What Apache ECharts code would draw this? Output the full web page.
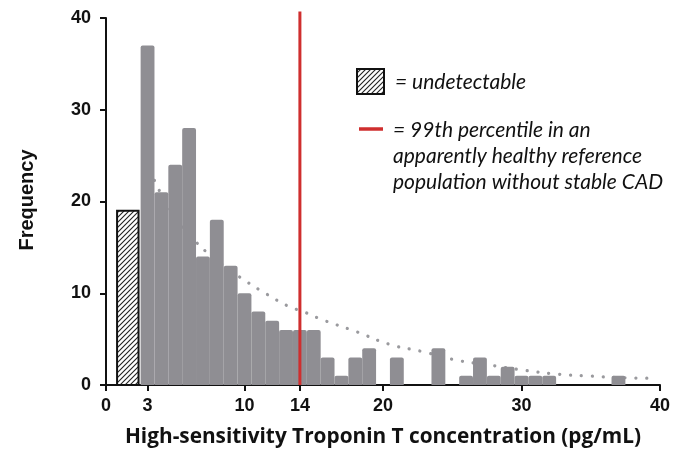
<!DOCTYPE html>
<html><head><meta charset="utf-8">
<script src="https://cdn.jsdelivr.net/npm/echarts@6/dist/echarts.min.js"></script>
<style>html,body{margin:0;padding:0;background:#fff}#c{width:686px;height:453px}</style>
</head><body><div id="c"></div>
<script>
// ---- data ----
const binCenters = [3,4,5,6,7,8,9,10,11,12,13,14,15,16,17,18,19,20,21,22,23,24,25,26,27,28,29,30,31,32,33,34,35,36,37];
const binCounts  = [37,21,24,28,14,18,13,10,8,7,6,6,6,3,1,3,4,0,3,0,0,4,0,1,3,1,2,1,1,1,0,0,0,0,1];
const binWidth = 1;
const undetectRange = [0.8, 2.35];
const undetectCount = 19;
const curveX = [3.5, 3.7, 5, 6.56, 7.33, 8.5, 9.92, 11.5, 13.28, 14.12, 15.68, 18.08, 20.48, 22.88, 25.28, 27.68, 30.08, 32.48, 34.88, 37.28, 39.68];
const curveY = [22.3, 21.6, 18.3, 15.5, 14.4, 13.0, 11.5, 10.0, 8.5, 8.07, 7.08, 5.81, 4.43, 3.63, 2.72, 2.18, 1.63, 1.2, 0.98, 0.8, 0.73];
const cutoff = 14;
const cutoffTop = 40.7;
const xTicks = [0, 3, 10, 14, 20, 30, 40];
const yTicks = [0, 10, 20, 30, 40];
const xTitle = 'High-sensitivity Troponin T concentration (pg/mL)';
const yTitle = 'Frequency';
const legendLabels = ['= undetectable', '= 99th percentile in an', 'apparently healthy reference', 'population without stable CAD'];

// ---- styles ----
const GRAY = '#8f8e93';
const RED = '#cf2e2e';
function hatchCanvas(){
  const c = document.createElement('canvas'); c.width = 5; c.height = 5;
  const g = c.getContext('2d');
  g.fillStyle = '#fff'; g.fillRect(0,0,5,5);
  g.strokeStyle = '#222'; g.lineWidth = 1.1; g.beginPath();
  g.moveTo(-1,6); g.lineTo(6,-1);
  g.moveTo(-1,1); g.lineTo(1,-1);
  g.moveTo(4,6); g.lineTo(6,4);
  g.stroke();
  return c;
}
const hatch = {image: hatchCanvas(), repeat: 'repeat'};

const histData = binCenters.map((c,i)=>[c - binWidth/2, c + binWidth/2, binCounts[i]]);
const curveData = curveX.map((x,i)=>[x, curveY[i]]);

const chart = echarts.init(document.getElementById('c'), null, {renderer:'canvas'});
const axisFont = {fontFamily:'Liberation Sans', fontWeight:'bold', fontSize:18, color:'#111'};
const legendFont = 'italic 21px Lato';
chart.setOption({
  animation:false,
  backgroundColor:'#fff',
  grid:{left:106, top:18, width:554, height:367, outerBoundsMode:'none', containLabel:false},
  xAxis:{
    type:'value', min:0, max:40,
    axisLine:{show:true, onZero:false, lineStyle:{color:'#111', width:2}},
    axisTick:{show:true, inside:false, length:6, lineStyle:{color:'#111', width:2}, customValues:xTicks},
    axisLabel:Object.assign({margin:12, customValues:xTicks}, axisFont),
    splitLine:{show:false},
    name:xTitle, nameLocation:'middle', nameGap:42,
    nameTextStyle:{fontFamily:'Open Sans', fontWeight:'bold', fontSize:20.8, color:'#111'}
  },
  yAxis:{
    type:'value', min:0, max:40, interval:10,
    axisLine:{show:true, lineStyle:{color:'#111', width:2}},
    axisTick:{show:true, length:6, lineStyle:{color:'#111', width:2}},
    axisLabel:Object.assign({margin:15}, axisFont),
    splitLine:{show:false}
  },
  graphic:[
    {type:'text', x:27, y:200, rotation:Math.PI/2,
      style:{text:yTitle, align:'center', verticalAlign:'middle', font:'bold 20px "Liberation Sans"', fill:'#111'}},
    {type:'rect', shape:{x:357, y:69, width:27, height:25},
      style:{fill:hatch, stroke:'#111', lineWidth:2}},
    {type:'text', x:395, y:82, style:{text:legendLabels[0], verticalAlign:'middle', font:legendFont, fill:'#111'}},
    {type:'line', shape:{x1:359, y1:129, x2:383, y2:129}, style:{stroke:RED, lineWidth:3.5}},
    {type:'text', x:393, y:130, style:{text:legendLabels[1], verticalAlign:'middle', font:legendFont, fill:'#111'}},
    {type:'text', x:393, y:156, style:{text:legendLabels[2], verticalAlign:'middle', font:legendFont, fill:'#111'}},
    {type:'text', x:393, y:182, style:{text:legendLabels[3], verticalAlign:'middle', font:legendFont, fill:'#111'}}
  ],
  series:[
    {
      type:'line', data:curveData, smooth:true, symbol:'none', z:1,
      lineStyle:{color:'#9a9a9e', width:3.2, type:[0.1, 10.8], cap:'round'}
    },
    {
      type:'custom', z:3, data:histData,
      renderItem(params, api){
        const p0 = api.coord([api.value(0), api.value(2)]);
        const p1 = api.coord([api.value(1), 0]);
        if (api.value(2) <= 0) return null;
        return {type:'rect', shape:{x:p0[0], y:p0[1], width:p1[0]-p0[0], height:p1[1]-p0[1], r:[2,2,0,0]},
          style:{fill:GRAY}};
      }
    },
    {
      type:'custom', z:3, data:[[undetectRange[0], undetectRange[1], undetectCount]],
      renderItem(params, api){
        const p0 = api.coord([api.value(0), api.value(2)]);
        const p1 = api.coord([api.value(1), 0]);
        return {type:'rect', shape:{x:p0[0], y:p0[1], width:p1[0]-p0[0], height:p1[1]-p0[1]},
          style:{fill:hatch, stroke:'#111', lineWidth:2}};
      }
    },
    {
      type:'line', data:[[cutoff,0],[cutoff,cutoffTop]], symbol:'none', clip:false, z:4,
      lineStyle:{color:RED, width:3}
    }
  ]
});
</script></body></html>
